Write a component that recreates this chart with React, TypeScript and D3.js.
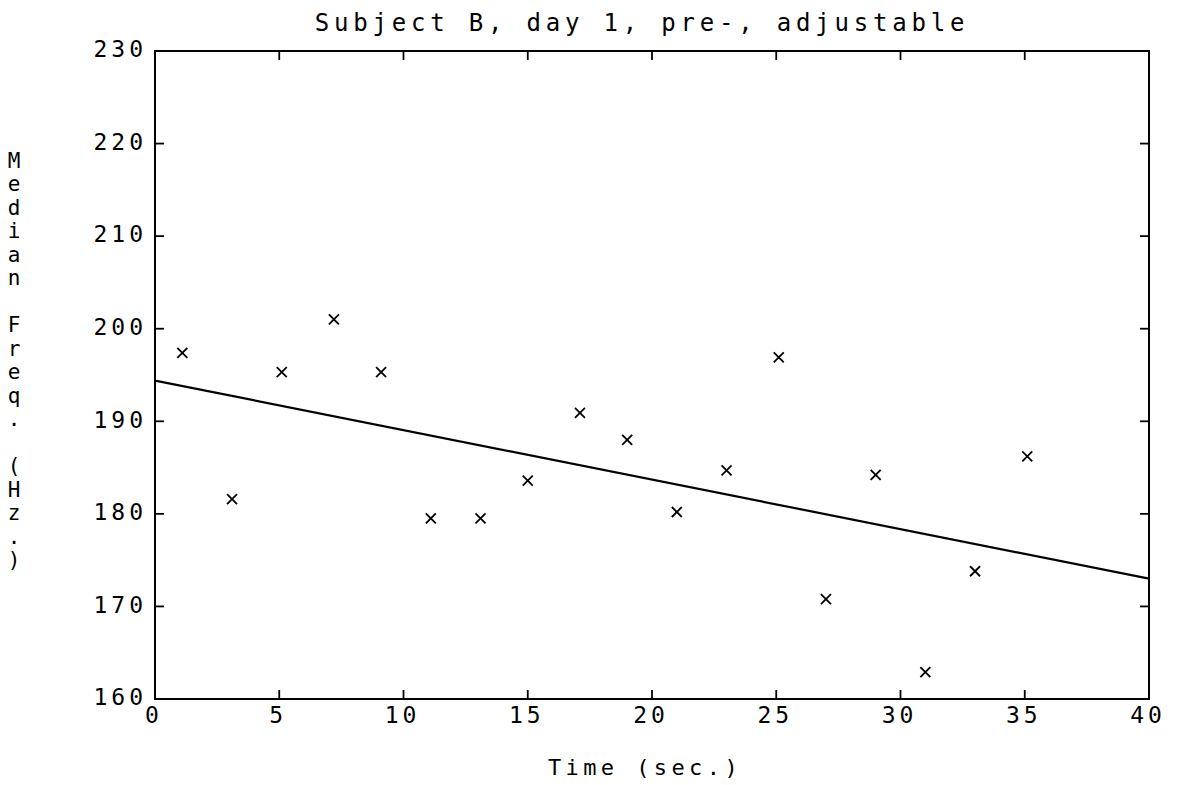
import React from "react";
import * as d3 from "d3";

const titleText = "Subject B, day 1, pre-, adjustable";
const xTitle = "Time (sec.)";
const yTitle = "Median Freq. (Hz.)";

const timeSec = [1.1, 3.1, 5.1, 7.2, 9.1, 11.1, 13.1, 15.0, 17.1, 19.0, 21.0, 23.0, 25.1, 27.0, 29.0, 31.0, 33.0, 35.1];
const medianFreq = [197.4, 181.6, 195.3, 201.0, 195.3, 179.5, 179.5, 183.6, 190.9, 188.0, 180.2, 184.7, 196.9, 170.8, 184.2, 162.9, 173.8, 186.2];

const fitX = [0, 40];
const fitY = [194.4, 173.0];

const xTicks = [0, 5, 10, 15, 20, 25, 30, 35, 40];
const yTicks = [160, 170, 180, 190, 200, 210, 220, 230];

const W = 1177;
const H = 785;
const L = 155, R = 1149, T = 51, B = 699;
const FONT = "'DejaVu Sans Mono', 'Liberation Mono', monospace";

export default function App() {
  const x = d3.scaleLinear().domain([0, 40]).range([L, R]);
  const y = d3.scaleLinear().domain([160, 230]).range([B, T]);
  const line = d3.line<number>().x((_, i) => x(fitX[i])).y((d) => y(d));
  const tickLen = 9;
  const m = 5;
  const tickLs = 4;

  return (
    <svg width={W} height={H} style={{ position: "absolute", left: 0, top: 0, background: "#fff" }}>
      <rect x={0} y={0} width={W} height={H} fill="#fff" />
      {/* frame */}
      <rect x={L} y={T} width={R - L} height={B - T} fill="none" stroke="#000" strokeWidth={2} />
      {/* x ticks top & bottom */}
      {xTicks.slice(1, -1).map((t) => (
        <g key={"xt" + t}>
          <line x1={x(t)} x2={x(t)} y1={B} y2={B - tickLen} stroke="#000" strokeWidth={1.8} />
          <line x1={x(t)} x2={x(t)} y1={T} y2={T + tickLen} stroke="#000" strokeWidth={1.8} />
        </g>
      ))}
      {yTicks.slice(1, -1).map((t) => (
        <g key={"yt" + t}>
          <line x1={L} x2={L + tickLen} y1={y(t)} y2={y(t)} stroke="#000" strokeWidth={1.8} />
          <line x1={R} x2={R - tickLen} y1={y(t)} y2={y(t)} stroke="#000" strokeWidth={1.8} />
        </g>
      ))}
      {/* x tick labels */}
      {xTicks.map((t) => (
        <text key={"xl" + t} x={x(t) - 3 + tickLs / 2} y={723} textAnchor="middle" fontFamily={FONT} fontSize={23} letterSpacing={tickLs} fill="#000">
          {t}
        </text>
      ))}
      {/* y tick labels */}
      {yTicks.map((t) => (
        <text key={"yl" + t} x={143 + tickLs} y={y(t) - 2} dy="0.36em" textAnchor="end" fontFamily={FONT} fontSize={23} letterSpacing={tickLs} fill="#000">
          {t}
        </text>
      ))}
      {/* title */}
      <text x={642} y={31} textAnchor="middle" fontFamily={FONT} fontSize={24} letterSpacing={4.8} fill="#000">
        {titleText}
      </text>
      {/* x title */}
      <text x={645} y={775} textAnchor="middle" fontFamily={FONT} fontSize={22} letterSpacing={4.4} fill="#000">
        {xTitle}
      </text>
      {/* y title stacked vertically */}
      {yTitle.split("").map((c, i) => (
        <text key={"yc" + i} x={14} y={160 + i * 23.5} dy="0.36em" textAnchor="middle" fontFamily={FONT} fontSize={21} fill="#000">
          {c}
        </text>
      ))}
      {/* regression line */}
      <path d={line(fitY) || ""} fill="none" stroke="#000" strokeWidth={2.2} />
      {/* data markers */}
      {timeSec.map((t, i) => {
        const cx = x(t);
        const cy = y(medianFreq[i]);
        return (
          <g key={"p" + i} stroke="#000" strokeWidth={1.8}>
            <line x1={cx - m} y1={cy - m} x2={cx + m} y2={cy + m} />
            <line x1={cx - m} y1={cy + m} x2={cx + m} y2={cy - m} />
          </g>
        );
      })}
    </svg>
  );
}
